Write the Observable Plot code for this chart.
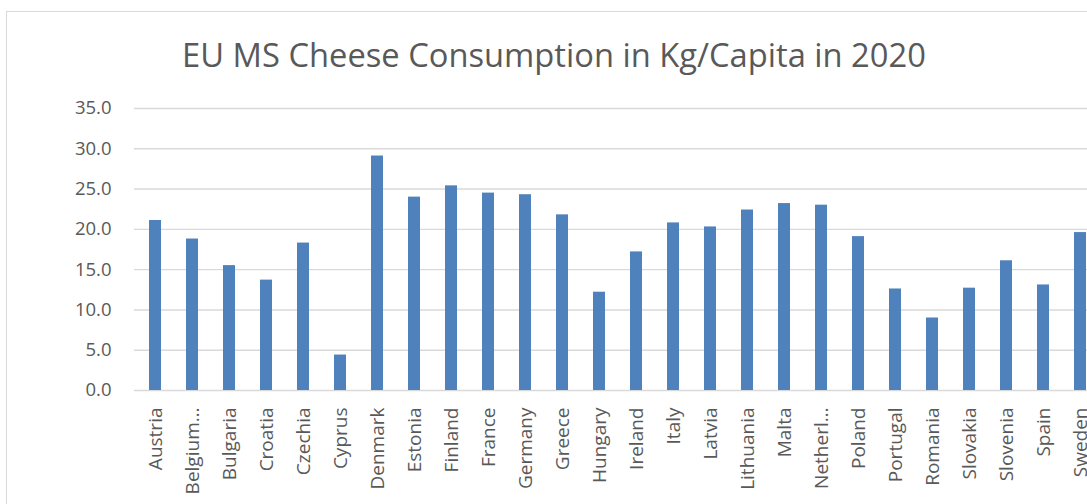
<!DOCTYPE html>
<html>
<head>
<meta charset="utf-8">
<script src="https://cdn.jsdelivr.net/npm/d3@7"></script>
<script src="https://cdn.jsdelivr.net/npm/@observablehq/plot@0.6"></script>
<style>
  html, body { margin: 0; padding: 0; background: #fff; overflow: hidden; width: 1087px; height: 504px; }
  #frame { position: absolute; left: 6px; top: 11px; width: 1200px; height: 600px; border-left: 1.5px solid #d9d9d9; border-top: 1.5px solid #d9d9d9; }
  #title { position: absolute; left: 0; width: 1108px; top: 32px; text-align: center; font-family: "Open Sans", sans-serif; font-size: 32.7px; color: #595959; white-space: nowrap; }
  #chart { position: absolute; left: 0; top: 0; width: 1120px; }
  #chart svg { max-width: none !important; }
</style>
</head>
<body>
<div id="frame"></div>
<div id="title">EU MS Cheese Consumption in Kg/Capita in 2020</div>
<div id="chart"></div>
<script>
const countries = ["Austria","Belgium","Bulgaria","Croatia","Czechia","Cyprus","Denmark","Estonia","Finland","France","Germany","Greece","Hungary","Ireland","Italy","Latvia","Lithuania","Malta","Netherlands","Poland","Portugal","Romania","Slovakia","Slovenia","Spain","Sweden"];
const tickLabels = ["Austria","Belgium…","Bulgaria","Croatia","Czechia","Cyprus","Denmark","Estonia","Finland","France","Germany","Greece","Hungary","Ireland","Italy","Latvia","Lithuania","Malta","Netherl…","Poland","Portugal","Romania","Slovakia","Slovenia","Spain","Sweden"];
const consumption = [21.1,18.8,15.5,13.7,18.3,4.4,29.1,24.0,25.4,24.5,24.3,21.8,12.2,17.2,20.8,20.3,22.4,23.2,23.0,19.1,12.6,9.0,12.7,16.1,13.1,19.6];
const yTicks = [0,5,10,15,20,25,30,35];

const data = countries.map((c, i) => ({country: c, value: consumption[i]}));
const labelOf = new Map(countries.map((c, i) => [c, tickLabels[i]]));

const chart = Plot.plot({
  width: 1120,
  height: 504,
  marginLeft: 134,
  marginRight: 19,
  marginTop: 108,
  marginBottom: 114,
  style: {fontFamily: "'Open Sans', sans-serif", fontSize: "18px", color: "#595959", background: "transparent", maxWidth: "none"},
  x: {domain: countries, paddingInner: 0.686, paddingOuter: 0.343, align: 0.5, label: null},
  y: {domain: [0, 35], label: null},
  marks: [
    Plot.ruleY(yTicks, {stroke: "#d9d9d9", strokeWidth: 1.4}),
    Plot.barY(data, {x: "country", y: "value", fill: "#4f81bd"}),
    Plot.axisY({ticks: yTicks, tickFormat: d3.format(".1f"), tickSize: 0, tickPadding: 23, fontSize: 18.5, label: null}),
    Plot.axisX({tickSize: 0, tickRotate: -90, tickPadding: 17, tickFormat: d => labelOf.get(d), fontSize: 19, label: null})
  ]
});
chart.style.maxWidth = "none";
document.getElementById("chart").appendChild(chart);
</script>
</body>
</html>
